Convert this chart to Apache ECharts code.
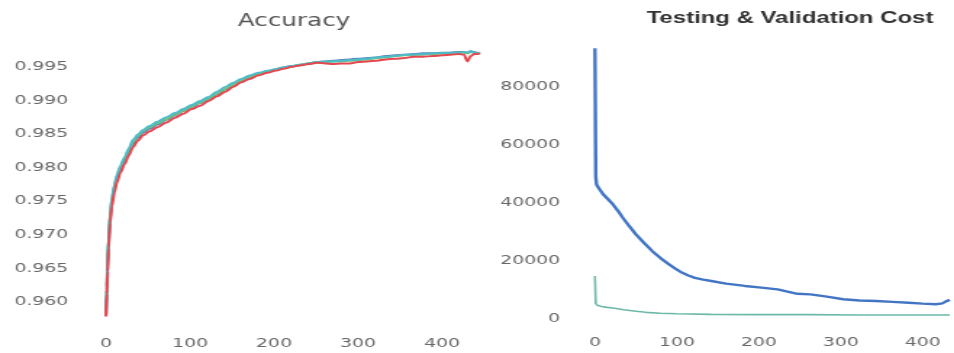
<!DOCTYPE html>
<html>
<head>
<meta charset="utf-8">
<script src="https://cdn.jsdelivr.net/npm/echarts@6/dist/echarts.min.js"></script>
<style>
  html, body { margin: 0; padding: 0; background: #fff; overflow: hidden; }
  /* the figure is drawn narrow and widened horizontally */
  #chart { width: 658px; height: 353px; transform: scaleX(1.45); transform-origin: 0 0; }
</style>
</head>
<body>
<div id="chart"></div>
<script>
// ---- Accuracy per epoch (four runs) ----
const accEpochs = [0, 1, 2, 3, 5, 7, 10, 13, 17, 22, 27, 32, 38, 44, 52, 61, 72, 82, 92, 102,
  112, 122, 132, 142, 151, 161, 171, 181, 192, 201, 211, 221, 231, 241, 251, 261, 270, 280, 290, 300,
  311, 322, 333, 344, 355, 366, 377, 389, 400, 410, 420, 426, 430, 434, 438, 442, 445];

const accTeal = [0.9582, 0.9622, 0.9657, 0.9692, 0.9730, 0.9754, 0.9774, 0.9789, 0.9802, 0.9815,
  0.9828, 0.9841, 0.9849, 0.9856, 0.9862, 0.9868, 0.9875, 0.9881, 0.9887, 0.9893,
  0.9899, 0.9905, 0.9913, 0.9920, 0.9926, 0.9932, 0.9937, 0.9941, 0.9944, 0.9946,
  0.9949, 0.9951, 0.9953, 0.9955, 0.9957, 0.9958, 0.9958, 0.9959, 0.9960, 0.9961,
  0.9962, 0.9964, 0.9965, 0.9966, 0.9968, 0.9968, 0.9969, 0.9970, 0.9970, 0.9971,
  0.9971, 0.9972, 0.9971, 0.9973, 0.9971, 0.9970, 0.9970];

const accGreen = [0.9581, 0.9624, 0.9660, 0.9694, 0.9731, 0.9753, 0.9772, 0.9787, 0.9800, 0.9813,
  0.9826, 0.9838, 0.9847, 0.9854, 0.9860, 0.9866, 0.9872, 0.9879, 0.9885, 0.9891,
  0.9897, 0.9903, 0.9910, 0.9917, 0.9923, 0.9929, 0.9935, 0.9939, 0.9943, 0.9946,
  0.9948, 0.9950, 0.9953, 0.9955, 0.9956, 0.9957, 0.9958, 0.9958, 0.9959, 0.9960,
  0.9961, 0.9963, 0.9964, 0.9966, 0.9967, 0.9968, 0.9968, 0.9969, 0.9970, 0.9970,
  0.9971, 0.9971, 0.9970, 0.9972, 0.9971, 0.9970, 0.9971];

const accBlue = [0.9580, 0.9618, 0.9652, 0.9686, 0.9725, 0.9749, 0.9769, 0.9784, 0.9797, 0.9810,
  0.9823, 0.9835, 0.9845, 0.9852, 0.9858, 0.9864, 0.9871, 0.9878, 0.9884, 0.9890,
  0.9896, 0.9902, 0.9909, 0.9916, 0.9922, 0.9928, 0.9934, 0.9939, 0.9943, 0.9946,
  0.9949, 0.9951, 0.9953, 0.9955, 0.9957, 0.9958, 0.9959, 0.9960, 0.9961, 0.9962,
  0.9963, 0.9964, 0.9966, 0.9967, 0.9968, 0.9969, 0.9970, 0.9970, 0.9971, 0.9971,
  0.9972, 0.9972, 0.9971, 0.9973, 0.9972, 0.9971, 0.9970];

const accRed = [0.9578, 0.9612, 0.9645, 0.9680, 0.9718, 0.9742, 0.9763, 0.9778, 0.9792, 0.9805,
  0.9818, 0.9830, 0.9840, 0.9848, 0.9854, 0.9860, 0.9867, 0.9874, 0.9880, 0.9887,
  0.9892, 0.9899, 0.9906, 0.9913, 0.9920, 0.9927, 0.9932, 0.9937, 0.9941, 0.9944,
  0.9947, 0.9950, 0.9952, 0.9954, 0.9956, 0.9955, 0.9954, 0.9955, 0.9955, 0.9957,
  0.9958, 0.9959, 0.9961, 0.9962, 0.9963, 0.9965, 0.9965, 0.9966, 0.9967, 0.9968,
  0.9969, 0.9968, 0.9958, 0.9966, 0.9969, 0.9969, 0.9970];

// ---- Cost per epoch ----
const testEpochs = [0, 1, 2, 5, 10, 16, 22, 28, 34, 42, 50, 60, 70, 80, 90, 98, 106, 114, 122, 132,
  142, 160, 183, 203, 223, 247, 263, 283, 303, 323, 343, 363, 383, 400, 416, 424, 428, 433];
const testCost = [93400, 49000, 46400, 45000, 43000, 41300, 39500, 37300, 34900, 32000,
  29200, 26200, 23400, 21000, 18900, 17400, 16000, 15000, 14200, 13600,
  13100, 12200, 11400, 10800, 10200, 8700, 8500, 7700, 6800, 6400,
  6200, 5900, 5600, 5300, 5100, 5400, 6000, 6600];

const valEpochs = [0, 1, 3, 8, 15, 22, 35, 50, 62, 80, 100, 142, 200, 260, 320, 380, 433];
const valCost = [14800, 5400, 4700, 4300, 4000, 3800, 3200, 2700, 2300, 2000, 1800, 1600, 1500, 1500, 1400, 1400, 1400];

// ---- Axis ticks ----
const accTicks = [0.960, 0.965, 0.970, 0.975, 0.980, 0.985, 0.990, 0.995];
const costTicks = [0, 20000, 40000, 60000, 80000];
const epochTicks = [0, 100, 200, 300, 400];

const pairs = (xs, ys) => xs.map((x, i) => [x, ys[i]]);

const labelFont = { fontFamily: 'DejaVu Sans', fontSize: 13, color: '#686868' };
const hidden = { show: false };

const chart = echarts.init(document.getElementById('chart'));

const accSeries = (name, ys, color) => ({
  name, type: 'line', xAxisIndex: 0, yAxisIndex: 0,
  data: pairs(accEpochs, ys), showSymbol: false, smooth: 0.3, smoothMonotone: 'x',
  lineStyle: { color, width: 2 }, itemStyle: { color }, silent: true
});

chart.setOption({
  animation: false,
  backgroundColor: '#ffffff',
  graphic: [
    { type: 'text', x: 202.8, y: 21.5,
      style: { text: 'Accuracy', font: '17px "DejaVu Sans"', fill: '#555555', align: 'center', verticalAlign: 'middle' } },
    { type: 'text', x: 544.8, y: 18,
      style: { text: 'Testing & Validation Cost', font: 'bold 16.5px "Liberation Sans"', fill: '#333333', align: 'center', verticalAlign: 'middle' } }
  ],
  grid: [
    { left: 73.1, top: 50, width: 257.9, bottom: 17.6 },
    { left: 410.3, top: 43.5, right: 0, bottom: 34 }
  ],
  xAxis: [
    { type: 'value', gridIndex: 0, min: 0, max: 445, interval: 100,
      axisLine: hidden, axisTick: hidden, splitLine: hidden,
      axisLabel: { ...labelFont, margin: 2,
        formatter: v => (epochTicks.includes(v) ? String(v) : '') } },
    { type: 'value', gridIndex: 1, min: 0, max: 433, interval: 100,
      axisLine: hidden, axisTick: hidden, splitLine: hidden,
      axisLabel: { ...labelFont, margin: 17,
        formatter: v => (epochTicks.includes(v) ? String(v) : '') } }
  ],
  yAxis: [
    { type: 'value', gridIndex: 0, min: 0.955, max: 0.9975, interval: 0.005,
      axisLine: hidden, axisTick: hidden, splitLine: hidden,
      axisLabel: { ...labelFont, margin: 26,
        formatter: v => {
          const t = accTicks.find(a => Math.abs(a - v) < 1e-6);
          return t === undefined ? '' : t.toFixed(3);
        } } },
    { type: 'value', gridIndex: 1, min: 0, max: 95000, interval: 20000,
      axisLine: hidden, axisTick: hidden, splitLine: hidden,
      axisLabel: { ...labelFont, margin: 24,
        formatter: v => (costTicks.includes(v) ? String(v) : '') } }
  ],
  series: [
    accSeries('run-b', accBlue, '#5b7fc2'),
    accSeries('run-g', accGreen, '#74c27a'),
    accSeries('run-t', accTeal, '#4bbcc8'),
    accSeries('run-r', accRed, '#e6474f'),
    { name: 'Validation', type: 'line', xAxisIndex: 1, yAxisIndex: 1,
      data: pairs(valEpochs, valCost), showSymbol: false, smooth: false,
      lineStyle: { color: '#6cb9aa', width: 1.6 }, silent: true },
    { name: 'Testing', type: 'line', xAxisIndex: 1, yAxisIndex: 1,
      data: pairs(testEpochs, testCost), showSymbol: false, smooth: false,
      lineStyle: { color: '#4275c4', width: 2.4 }, silent: true }
  ]
});
</script>
</body>
</html>
